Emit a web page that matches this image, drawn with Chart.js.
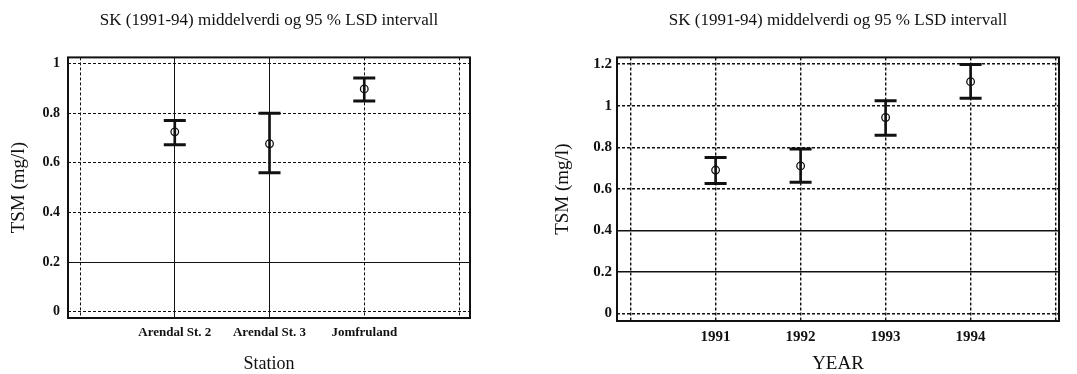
<!DOCTYPE html>
<html>
<head>
<meta charset="utf-8">
<script src="https://cdn.jsdelivr.net/npm/chart.js@4/dist/chart.umd.min.js"></script>
<style>
body { margin:0; background:#fff; width:1077px; height:374px; overflow:hidden; position:relative; }
.boks { position:absolute; top:0; height:374px; }
</style>
</head>
<body>
<div class="boks" style="left:0;width:538px"><canvas id="stasjon-chart"></canvas></div>
<div class="boks" style="left:538px;width:539px"><canvas id="aar-chart"></canvas></div>
<script>
const tittel = "SK (1991-94) middelverdi og 95 % LSD intervall";

// venstre: per stasjon
const stasjoner = ["Arendal St. 2", "Arendal St. 3", "Jomfruland"];
const stasjonPos = [2, 3, 4];
const stasjonMiddel = [0.725, 0.677, 0.898];
const stasjonLav = [0.673, 0.560, 0.849];
const stasjonHoy = [0.771, 0.800, 0.942];
const stasjonTicksX = [1, 2, 3, 4, 5];
const stasjonTicksY = [0, 0.2, 0.4, 0.6, 0.8, 1];

// hoyre: per aar
const aar = [1991, 1992, 1993, 1994];
const aarMiddel = [0.690, 0.710, 0.943, 1.115];
const aarLav = [0.626, 0.632, 0.857, 1.036];
const aarHoy = [0.751, 0.791, 1.023, 1.198];
const aarTicksX = [1990, 1991, 1992, 1993, 1994, 1995];
const aarTicksY = [0, 0.2, 0.4, 0.6, 0.8, 1, 1.2];

const svart = "#111";
const serif = "'Liberation Serif', 'Times New Roman', serif";

const ramme = {
    id: "ramme",
    afterDraw(chart) {
        const {ctx, chartArea: a} = chart;
        ctx.save();
        ctx.strokeStyle = svart;
        ctx.lineWidth = 2;
        ctx.strokeRect(a.left, a.top, a.right - a.left, a.bottom - a.top);
        ctx.restore();
    }
};

function lagDatasets(xs, middel, lav, hoy) {
    return [
        {
            type: "bar",
            data: xs.map((x, i) => ({x: x, y: [lav[i], hoy[i]]})),
            backgroundColor: svart,
            barThickness: 2,
            grouped: false,
        },
        {
            type: "scatter",
            data: xs.flatMap((x, i) => [{x: x, y: lav[i]}, {x: x, y: hoy[i]}]),
            pointStyle: "line",
            radius: 11,
            borderWidth: 3,
            borderColor: svart,
        },
        {
            type: "scatter",
            data: xs.map((x, i) => ({x: x, y: middel[i]})),
            pointStyle: "circle",
            radius: 3.8,
            borderWidth: 1.3,
            borderColor: svart,
            backgroundColor: "rgba(0,0,0,0)",
        },
    ];
}

function lagConfig(o) {
    return {
        type: "scatter",
        data: { datasets: lagDatasets(o.xs, o.middel, o.lav, o.hoy) },
        options: {
            responsive: false,
            animation: false,
            events: [],
            layout: { padding: { right: o.padHoyre } },
            plugins: {
                legend: { display: false },
                tooltip: { enabled: false },
                title: {
                    display: true,
                    fullSize: false,
                    text: tittel,
                    color: svart,
                    font: { family: serif, size: 17, weight: "normal", lineHeight: 1.2 },
                    padding: { top: 10, bottom: 27 },
                },
            },
            scales: {
                x: {
                    type: "linear",
                    offset: false,
                    min: o.xMin,
                    max: o.xMax,
                    afterBuildTicks: s => { s.ticks = o.ticksX.map(v => ({value: v})); },
                    afterFit: s => { s.height = o.xHoyde; },
                    ticks: {
                        autoSkip: false,
                        maxRotation: 0,
                        padding: 7,
                        color: svart,
                        font: o.xFont,
                        callback: o.xLabel,
                    },
                    grid: { offset: false, color: svart, lineWidth: o.gridBredde, drawTicks: false },
                    border: { display: false, dash: ctx => o.heltX.includes(ctx.tick && ctx.tick.value) ? [] : [3, 2] },
                    title: {
                        display: true,
                        text: o.xTittel,
                        color: svart,
                        font: { family: serif, size: o.xTittelSize, lineHeight: 1.1 },
                        padding: { top: 0, bottom: 0 },
                    },
                },
                y: {
                    type: "linear",
                    min: o.yMin,
                    max: o.yMax,
                    afterBuildTicks: s => { s.ticks = o.ticksY.map(v => ({value: v})); },
                    afterFit: s => { s.width = o.yBredde; },
                    ticks: {
                        padding: o.yPad,
                        color: svart,
                        font: { family: serif, size: o.yTickSize, weight: "bold" },
                        callback: v => String(v),
                    },
                    grid: { color: svart, lineWidth: o.gridBredde, drawTicks: false },
                    border: { display: false, dash: ctx => o.heltY.includes(ctx.tick && ctx.tick.value) ? [] : [3, 2] },
                    title: {
                        display: true,
                        text: "TSM (mg/l)",
                        color: svart,
                        font: { family: serif, size: 19, lineHeight: 1.2 },
                        padding: { top: o.yTittelPad, bottom: 0 },
                    },
                },
            },
        },
        plugins: [ramme],
    };
}

const venstre = document.querySelector("#stasjon-chart");
venstre.width = 538; venstre.height = 374;
new Chart(venstre.getContext("2d"), lagConfig({
    xs: stasjonPos, middel: stasjonMiddel, lav: stasjonLav, hoy: stasjonHoy,
    ticksX: stasjonTicksX, ticksY: stasjonTicksY,
    xMin: 0.873, xMax: 5.116, yMin: -0.025, yMax: 1.025,
    xLabel: v => stasjoner[stasjonPos.indexOf(v)] || "",
    xFont: { family: serif, size: 13, weight: "bold" },
    xTittel: "Station", xTittelSize: 18, xHoyde: 56,
    yBredde: 68, yPad: 8, yTickSize: 14, yTittelPad: 8,
    padHoyre: 68, gridBredde: 1,
    heltX: [2, 3], heltY: [0.2],
}));

const hoyre = document.querySelector("#aar-chart");
hoyre.width = 539; hoyre.height = 374;
new Chart(hoyre.getContext("2d"), lagConfig({
    xs: aar, middel: aarMiddel, lav: aarLav, hoy: aarHoy,
    ticksX: aarTicksX, ticksY: aarTicksY,
    xMin: 1989.84, xMax: 1995.04, yMin: -0.036, yMax: 1.232,
    xLabel: v => aar.includes(v) ? String(v) : "",
    xFont: { family: serif, size: 15, weight: "bold" },
    xTittel: "YEAR", xTittelSize: 19, xHoyde: 53,
    yBredde: 79, yPad: 5, yTickSize: 15, yTittelPad: 14,
    padHoyre: 18, gridBredde: 1.4,
    heltX: [], heltY: [0.2, 0.4],
}));
</script>
</body>
</html>
